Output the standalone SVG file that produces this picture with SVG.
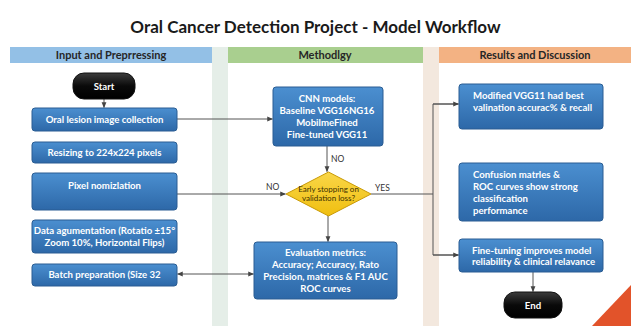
<svg xmlns="http://www.w3.org/2000/svg" width="631" height="326" viewBox="0 0 631 326">
  <defs>
    <linearGradient id="boxFill" x1="0" y1="0" x2="0" y2="1">
      <stop offset="0" stop-color="#4b8fd0"/>
      <stop offset="1" stop-color="#2d68a8"/>
    </linearGradient>
    <linearGradient id="pillFill" x1="0" y1="0" x2="0" y2="1">
      <stop offset="0" stop-color="#3c3c3c"/>
      <stop offset="0.5" stop-color="#0a0a0a"/>
      <stop offset="1" stop-color="#000"/>
    </linearGradient>
    <linearGradient id="diamondFill" x1="0" y1="0" x2="0" y2="1">
      <stop offset="0" stop-color="#f9d648"/>
      <stop offset="1" stop-color="#f0bf10"/>
    </linearGradient>
    <marker id="arrow" viewBox="0 0 8 8" refX="7" refY="4" markerWidth="6" markerHeight="6" orient="auto-start-reverse" markerUnits="userSpaceOnUse">
      <path d="M0,0.8 L8,4 L0,7.2 Z" fill="#444"/>
    </marker>
  </defs>
  <style>
    .title { font-family: Lato, "Open Sans", "Liberation Sans", sans-serif; font-weight: bold; font-size: 17px; fill: #1a1a1a; }
    .head { font-family: Lato, "Open Sans", "Liberation Sans", sans-serif; font-weight: bold; font-size: 11px; fill: #262626; }
    .box { fill: url(#boxFill); stroke: #2a5d93; stroke-width: 1; }
    .pill { fill: url(#pillFill); stroke: #111; stroke-width: 1; }
    .t { font-family: Lato, "Open Sans", "Liberation Sans", sans-serif; font-weight: bold; font-size: 9.6px; fill: #ffffff; }
    .c { text-anchor: middle; }
    .dt { font-family: Lato, "Open Sans", "Liberation Sans", sans-serif; font-size: 8px; fill: #3d3000; text-anchor: middle; }
    .lbl { font-family: Lato, "Open Sans", "Liberation Sans", sans-serif; font-size: 8.5px; fill: #333; }
    .conn { fill: none; stroke: #555; stroke-width: 1; }
  </style>

  <!-- page background -->
  <rect x="0" y="0" width="631" height="326" fill="#ffffff"/>

  <!-- title -->
  <text class="title" x="315.5" y="33" text-anchor="middle">Oral Cancer Detection Project - Model Workflow</text>

  <!-- swimlane gutters -->
  <rect x="212" y="47" width="16" height="279" fill="#e5eee8"/>
  <rect x="423" y="47" width="16" height="279" fill="#f3e8de"/>

  <!-- lane headers -->
  <g id="lane-input">
    <rect x="10" y="47" width="202" height="16" fill="#93c0e6"/>
    <text class="head" x="111" y="59" text-anchor="middle">Input and Preprressing</text>
  </g>
  <g id="lane-method">
    <rect x="228" y="47" width="195" height="16" fill="#a9cf8f"/>
    <text class="head" x="325" y="59" text-anchor="middle">Methodlgy</text>
  </g>
  <g id="lane-results">
    <rect x="439" y="47" width="192" height="16" fill="#f3b283"/>
    <text class="head" x="535" y="59" text-anchor="middle">Results and Discussion</text>
  </g>

  <!-- corner accent -->
  <polygon points="592,326 631,285 631,326" fill="#e2532a"/>

  <!-- connectors -->
  <g id="connectors">
    <line class="conn" x1="104" y1="99" x2="104" y2="107.5" marker-end="url(#arrow)"/>
    <line class="conn" x1="177" y1="119" x2="272.5" y2="119" marker-end="url(#arrow)"/>
    <line class="conn" x1="177" y1="194" x2="285.5" y2="194" marker-end="url(#arrow)"/>
    <line class="conn" x1="177.5" y1="274" x2="253.5" y2="274" marker-start="url(#arrow)" marker-end="url(#arrow)"/>
    <line class="conn" x1="327" y1="146" x2="327" y2="171.5" marker-end="url(#arrow)"/>
    <line class="conn" x1="328" y1="215" x2="328" y2="241.5" marker-end="url(#arrow)"/>
    <polyline class="conn" points="371,194 433,194"/>
    <polyline class="conn" points="458.5,104 433,104 433,255 458.5,255"/>
    <line class="conn" x1="433" y1="104" x2="458.5" y2="104" marker-end="url(#arrow)"/>
    <line class="conn" x1="433" y1="255" x2="458.5" y2="255" marker-end="url(#arrow)"/>
    <line class="conn" x1="533" y1="272" x2="533" y2="291.5" marker-end="url(#arrow)"/>
    <text class="lbl" x="266" y="190">NO</text>
    <text class="lbl" x="331" y="162">NO</text>
    <text class="lbl" x="375" y="191">YES</text>
  </g>

  <!-- input lane nodes -->
  <g id="start">
    <rect class="pill" x="73" y="73" width="62" height="26" rx="11"/>
    <text class="t c" x="104" y="89.5">Start</text>
  </g>
  <g id="collect">
    <rect class="box" x="32" y="108" width="145" height="23" rx="3"/>
    <text class="t c" x="104.5" y="123">Oral lesion image collection</text>
  </g>
  <g id="resize">
    <rect class="box" x="32" y="142" width="145" height="21" rx="3"/>
    <text class="t c" x="104.5" y="155.5">Resizing to 224x224 pixels</text>
  </g>
  <g id="normalize">
    <rect class="box" x="32" y="173" width="145" height="37" rx="3"/>
    <text class="t c" x="104.5" y="189">Pixel nomizlation</text>
  </g>
  <g id="augment">
    <rect class="box" x="32" y="220" width="145" height="33" rx="3"/>
    <text class="t c" x="104.5" y="233.5">Data agumentation (Rotatio ±15°</text>
    <text class="t c" x="104.5" y="246">Zoom 10%, Horizontal Flips)</text>
  </g>
  <g id="batch">
    <rect class="box" x="32" y="264" width="145" height="22" rx="3"/>
    <text class="t c" x="104.5" y="278">Batch preparation (Size 32</text>
  </g>

  <!-- methodology lane nodes -->
  <g id="cnn">
    <rect class="box" x="273" y="87" width="110" height="59" rx="3"/>
    <text class="t c" x="327" y="102">CNN models:</text>
    <text class="t c" x="327" y="114">Baseline VGG16NG16</text>
    <text class="t c" x="327" y="126">MobilmeFined</text>
    <text class="t c" x="327" y="138">Fine-tuned VGG11</text>
  </g>
  <g id="early-stop">
    <polygon points="328.5,172 371,194 328.5,216 286,194" fill="url(#diamondFill)" stroke="#c99a06" stroke-width="1"/>
    <text class="dt" x="328.5" y="192">Early stopping on</text>
    <text class="dt" x="328.5" y="201">validation loss?</text>
  </g>
  <g id="evaluation">
    <rect class="box" x="254" y="242" width="143" height="57" rx="3"/>
    <text class="t c" x="325.5" y="256">Evaluation metrics:</text>
    <text class="t c" x="325.5" y="268">Accuracy; Accuracy, Rato</text>
    <text class="t c" x="325.5" y="280">Precision, matrices &amp; F1 AUC</text>
    <text class="t c" x="325.5" y="291.5">ROC curves</text>
  </g>

  <!-- results lane nodes -->
  <g id="best-model">
    <rect class="box" x="459" y="84" width="144" height="45" rx="3"/>
    <text class="t" x="473" y="99">Modified VGG11 had best</text>
    <text class="t" x="473" y="110.5">valination accurac% &amp; recall</text>
  </g>
  <g id="confusion">
    <rect class="box" x="459" y="163" width="144" height="58" rx="3"/>
    <text class="t" x="473" y="178">Confusion matrles &amp;</text>
    <text class="t" x="473" y="190">ROC curves show strong</text>
    <text class="t" x="473" y="201.5">classification</text>
    <text class="t" x="473" y="213.5">performance</text>
  </g>
  <g id="finetune">
    <rect class="box" x="459" y="239" width="144" height="33" rx="3"/>
    <text class="t" x="472" y="253.5">Fine-tuning improves model</text>
    <text class="t" x="472" y="265">reliability &amp; clinical relavance</text>
  </g>
  <g id="end">
    <rect class="pill" x="504" y="292" width="58" height="26" rx="11"/>
    <text class="t c" x="533" y="308.5">End</text>
  </g>
</svg>
